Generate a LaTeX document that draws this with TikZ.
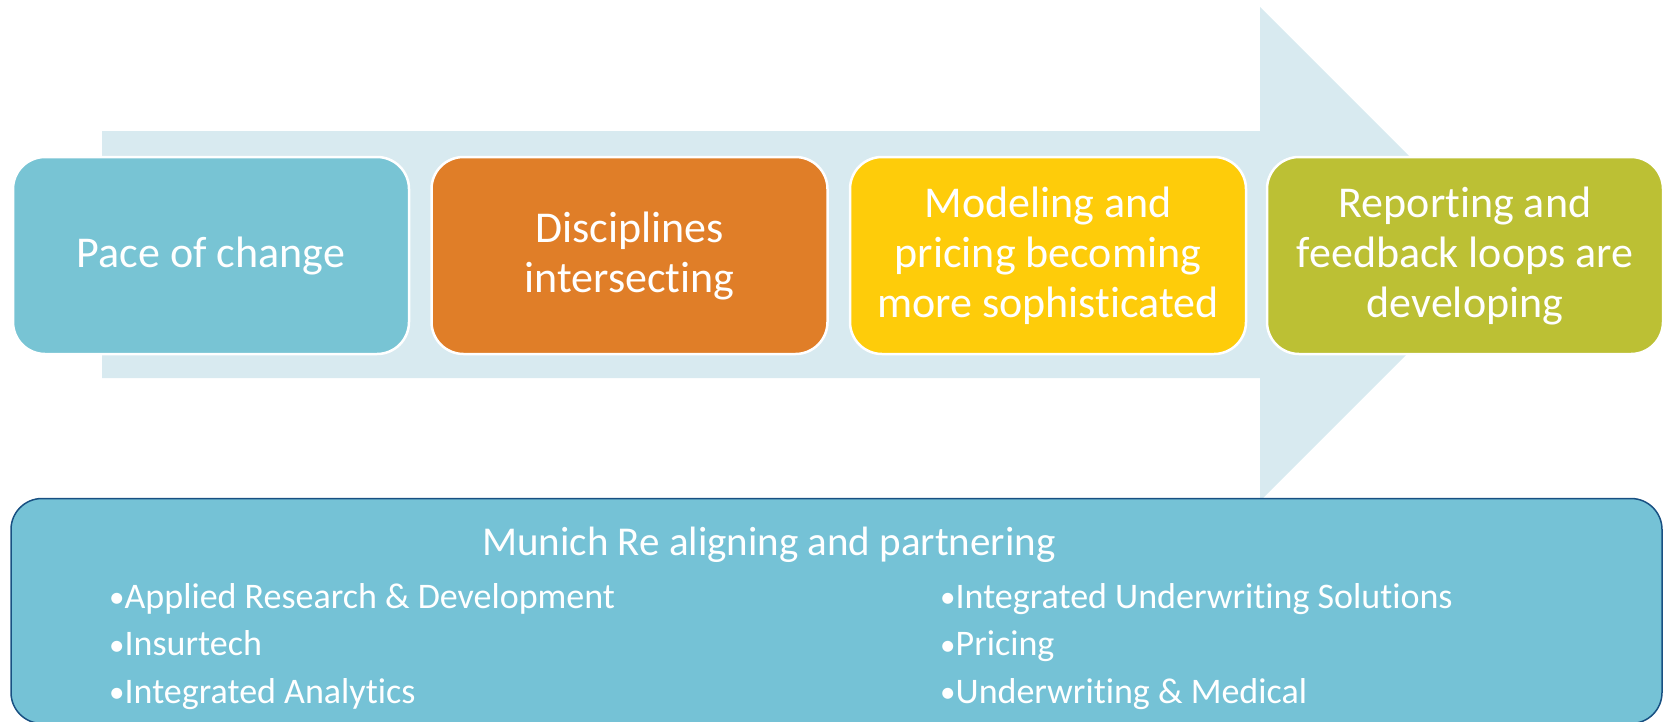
\documentclass[tikz,border=0pt]{standalone}
\usepackage{fontspec}
\setmainfont{Carlito}[Ligatures={NoCommon,NoContextual}, Contextuals=NoAlternate]
\definecolor{arrowc}{RGB}{216,234,240}
\definecolor{tealc}{RGB}{120,196,212}
\definecolor{orangec}{RGB}{224,126,40}
\definecolor{yellowc}{RGB}{254,204,10}
\definecolor{olivec}{RGB}{188,192,52}
\definecolor{basec}{RGB}{117,194,214}
\definecolor{basedraw}{RGB}{24,80,130}
\newcommand{\smallbul}{{\fontsize{31}{0}\selectfont\raisebox{0.5pt}{•}}}
\tikzset{
  topbox/.style={rectangle, rounded corners=32pt, draw=white, line width=2.5pt,
    minimum width=396pt, minimum height=197pt, text=white, align=center,
    inner sep=0pt, font=\fontsize{44}{50}\selectfont},
  titletext/.style={text=white, anchor=base west, inner sep=0pt, font=\fontsize{41}{50}\selectfont},
  bullettext/.style={text=white, anchor=base west, inner sep=0pt, font=\fontsize{36}{47}\selectfont}
}
\begin{document}
\begin{tikzpicture}[x=1pt,y=-1pt]
\useasboundingbox (0,0) rectangle (1663,721);
\clip (0,0) rectangle (1663,721);
% big arrow
\fill[arrowc] (102,131) -- (1260,131) -- (1260,7) -- (1507,254) -- (1260,501) -- (1260,378) -- (102,378) -- cycle;
% top boxes
\node[topbox, fill=tealc]   (b1) at (211,255.5)  {Pace of change};
\node[topbox, fill=orangec] (b2) at (629.5,255.5) {Disciplines\\intersecting};
\node[topbox, fill=yellowc] (b3) at (1048,255.5) {Modeling and\\pricing becoming\\more sophisticated};
\node[topbox, fill=olivec]  (b4) at (1465,255.5) {Reporting and\\feedback loops are\\developing};
% bottom box
\node[rectangle, rounded corners=31pt, fill=basec, draw=basedraw, line width=1.5pt,
  minimum width=1651pt, minimum height=225pt, inner sep=0pt] (base) at (836.5,611) {};
\node[titletext] (title) at (482,555) {Munich Re aligning and partnering};
\node[bullettext] (l1) at (109,608) {\smallbul Applied Research \& Development};
\node[bullettext] (l2) at (109,655.5) {\smallbul Insurtech};
\node[bullettext] (l3) at (109,703) {\smallbul Integrated Analytics};
\node[bullettext] (r1) at (940,608) {\smallbul Integrated Underwriting Solutions};
\node[bullettext] (r2) at (940,655.5) {\smallbul Pricing};
\node[bullettext] (r3) at (940,703) {\smallbul Underwriting \& Medical};
\end{tikzpicture}
\end{document}
